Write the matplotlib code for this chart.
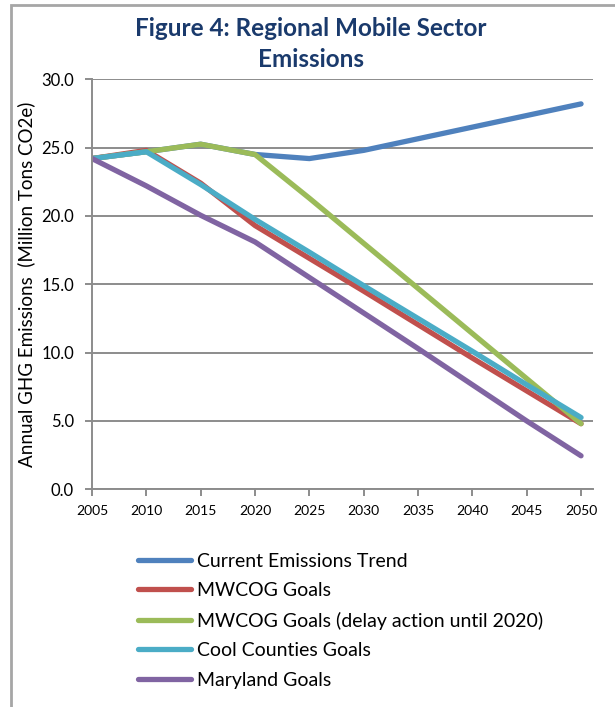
import matplotlib
matplotlib.use("Agg")
import matplotlib.pyplot as plt
from matplotlib.patches import Rectangle

years = [2005, 2010, 2015, 2020, 2025, 2030, 2035, 2040, 2045, 2050]

current_trend = [24.2, 24.7, 25.25, 24.5, 24.2, 24.8, 25.65, 26.5, 27.35, 28.2]
mwcog_goals = [24.2, 24.8, 22.4, 19.3, 16.9, 14.5, 12.05, 9.6, 7.2, 4.8]
mwcog_delay = [24.2, 24.7, 25.25, 24.5, 21.3, 18.0, 14.7, 11.4, 8.1, 4.8]
cool_counties = [24.2, 24.7, 22.3, 19.75, 17.35, 14.9, 12.5, 10.1, 7.65, 5.25]
maryland_goals = [24.2, 22.2, 20.05, 18.1, 15.5, 12.9, 10.3, 7.65, 5.0, 2.45]

series_names = [
    "Current Emissions Trend",
    "MWCOG Goals",
    "MWCOG Goals (delay action until 2020)",
    "Cool Counties Goals",
    "Maryland Goals",
]
series_values = [current_trend, mwcog_goals, mwcog_delay, cool_counties, maryland_goals]
series_colors = ["#4F81BD", "#C0504D", "#9BBB59", "#4BACC6", "#8064A2"]

y_ticks = [0.0, 5.0, 10.0, 15.0, 20.0, 25.0, 30.0]

FONT = ["Lato", "DejaVu Sans"]
GRID = "#8C8C8C"

fig = plt.figure(figsize=(6.15, 7.07), dpi=100)

# outer chart frame (runs off the right and bottom edges)
fig.patches.append(Rectangle((11 / 615, -0.05), 1.2, (707 - 5) / 707 + 0.05,
                             transform=fig.transFigure, fill=False,
                             edgecolor="#A6A6A6", linewidth=2.0))

ax = fig.add_axes([92 / 615, 1 - 489.3 / 707, (593 - 92) / 615, (489.3 - 79.3) / 707])

for name, vals, col in zip(series_names, series_values, series_colors):
    ax.plot(years, vals, color=col, linewidth=3.8, label=name,
            solid_capstyle="round", solid_joinstyle="round")

ax.set_xlim(2005, 2051.1)
ax.set_ylim(0, 30)
ax.set_xticks(years)
ax.set_xticklabels([str(y) for y in years], fontsize=10, family=FONT)
ax.set_yticks(y_ticks)
ax.set_yticklabels([f"{v:.1f}" for v in y_ticks], fontsize=12, family=FONT)

ax.yaxis.grid(True, color=GRID, linewidth=1.4)
ax.set_axisbelow(True)
for side in ("top", "right"):
    ax.spines[side].set_visible(False)
for side in ("left", "bottom"):
    ax.spines[side].set_color(GRID)
    ax.spines[side].set_linewidth(1.4)
ax.tick_params(axis="both", color=GRID, width=1.4, length=5, direction="out")
ax.tick_params(axis="y", pad=8)
ax.tick_params(axis="x", pad=6)

ax.set_ylabel("Annual GHG Emissions  (Million Tons CO2e)", fontsize=13.5,
              family=FONT, labelpad=4)

fig.text(311 / 615, 1 - 44 / 707, "Figure 4: Regional Mobile Sector\nEmissions",
         ha="center", va="center", fontsize=17.5, fontweight="bold",
         color="#1A3A6C", family=FONT, linespacing=1.4)

leg = fig.legend(loc="upper left", bbox_to_anchor=(130 / 615, 1 - 545 / 707),
                 frameon=False, prop={"family": FONT, "size": 14},
                 handlelength=2.75, handletextpad=0.3, labelspacing=0.64,
                 borderaxespad=0)

fig.savefig("out.png", dpi=100)
